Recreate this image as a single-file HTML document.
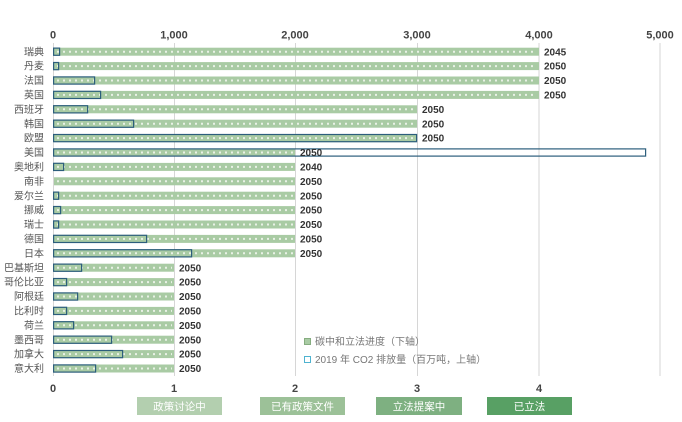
<!DOCTYPE html>
<html><head><meta charset="utf-8"><style>
html,body{margin:0;padding:0;background:#fff;}
svg{display:block;}
text{font-family:"Liberation Sans","Noto Sans CJK SC",sans-serif;}
.b{fill:#a9cba4;}
.d{stroke:#e9f1e6;stroke-width:2;stroke-dasharray:2 4;}
.o{fill:none;stroke:#2c5e7c;stroke-width:1.2;}
.n{font-size:10px;fill:#555;text-anchor:end;}
.v{font-size:10px;font-weight:bold;fill:#333;}
</style></head><body>
<svg width="682" height="422" viewBox="0 0 682 422" xmlns="http://www.w3.org/2000/svg">
<rect width="682" height="422" fill="#fff"/>
<g stroke="#d6d6d6" stroke-width="1">
<line x1="53.5" y1="43" x2="53.5" y2="376"/>
<line x1="174.5" y1="43" x2="174.5" y2="376"/>
<line x1="295.5" y1="43" x2="295.5" y2="376"/>
<line x1="417.5" y1="43" x2="417.5" y2="376"/>
<line x1="539" y1="43" x2="539" y2="376"/>
<line x1="660" y1="43" x2="660" y2="376"/>
</g>
<g font-size="11" font-weight="bold" fill="#444" text-anchor="middle">
<text x="53" y="38.5">0</text>
<text x="174" y="38.5">1,000</text>
<text x="295" y="38.5">2,000</text>
<text x="417" y="38.5">3,000</text>
<text x="539" y="38.5">4,000</text>
<text x="660" y="38.5">5,000</text>
<text x="53" y="392">0</text>
<text x="174" y="392">1</text>
<text x="295" y="392">2</text>
<text x="417" y="392">3</text>
<text x="539" y="392">4</text>
</g>

<g transform="translate(0,51.7)"><rect class="b" x="54" y="-4" width="485" height="8"/><line class="d" x1="57" y1="0" x2="537" y2="0"/><rect class="o" x="53.6" y="-3.6" width="6" height="7.2"/><text class="n" x="44" y="3.6">瑞典</text><text class="v" x="544" y="3.6">2045</text></g>
<g transform="translate(0,66.1)"><rect class="b" x="54" y="-4" width="485" height="8"/><line class="d" x1="57" y1="0" x2="537" y2="0"/><rect class="o" x="53.6" y="-3.6" width="5" height="7.2"/><text class="n" x="44" y="3.6">丹麦</text><text class="v" x="544" y="3.6">2050</text></g>
<g transform="translate(0,80.5)"><rect class="b" x="54" y="-4" width="485" height="8"/><line class="d" x1="57" y1="0" x2="537" y2="0"/><rect class="o" x="53.6" y="-3.6" width="41" height="7.2"/><text class="n" x="44" y="3.6">法国</text><text class="v" x="544" y="3.6">2050</text></g>
<g transform="translate(0,94.9)"><rect class="b" x="54" y="-4" width="485" height="8"/><line class="d" x1="57" y1="0" x2="537" y2="0"/><rect class="o" x="53.6" y="-3.6" width="47" height="7.2"/><text class="n" x="44" y="3.6">英国</text><text class="v" x="544" y="3.6">2050</text></g>
<g transform="translate(0,109.3)"><rect class="b" x="54" y="-4" width="363" height="8"/><line class="d" x1="57" y1="0" x2="415" y2="0"/><rect class="o" x="53.6" y="-3.6" width="34" height="7.2"/><text class="n" x="44" y="3.6">西班牙</text><text class="v" x="422" y="3.6">2050</text></g>
<g transform="translate(0,123.7)"><rect class="b" x="54" y="-4" width="363" height="8"/><line class="d" x1="57" y1="0" x2="415" y2="0"/><rect class="o" x="53.6" y="-3.6" width="80" height="7.2"/><text class="n" x="44" y="3.6">韩国</text><text class="v" x="422" y="3.6">2050</text></g>
<g transform="translate(0,138.1)"><rect class="b" x="54" y="-4" width="363" height="8"/><line class="d" x1="57" y1="0" x2="415" y2="0"/><rect class="o" x="53.6" y="-3.6" width="363" height="7.2"/><text class="n" x="44" y="3.6">欧盟</text><text class="v" x="422" y="3.6">2050</text></g>
<g transform="translate(0,152.5)"><rect class="b" x="54" y="-4" width="241" height="8"/><line class="d" x1="57" y1="0" x2="293" y2="0"/><rect class="o" x="53.6" y="-3.6" width="592" height="7.2"/><text class="n" x="44" y="3.6">美国</text><text class="v" x="300" y="3.6">2050</text></g>
<g transform="translate(0,166.9)"><rect class="b" x="54" y="-4" width="241" height="8"/><line class="d" x1="57" y1="0" x2="293" y2="0"/><rect class="o" x="53.6" y="-3.6" width="10" height="7.2"/><text class="n" x="44" y="3.6">奥地利</text><text class="v" x="300" y="3.6">2040</text></g>
<g transform="translate(0,181.3)"><rect class="b" x="54" y="-4" width="241" height="8"/><line class="d" x1="57" y1="0" x2="293" y2="0"/><text class="n" x="44" y="3.6">南非</text><text class="v" x="300" y="3.6">2050</text></g>
<g transform="translate(0,195.7)"><rect class="b" x="54" y="-4" width="241" height="8"/><line class="d" x1="57" y1="0" x2="293" y2="0"/><rect class="o" x="53.6" y="-3.6" width="5" height="7.2"/><text class="n" x="44" y="3.6">爱尔兰</text><text class="v" x="300" y="3.6">2050</text></g>
<g transform="translate(0,210.1)"><rect class="b" x="54" y="-4" width="241" height="8"/><line class="d" x1="57" y1="0" x2="293" y2="0"/><rect class="o" x="53.6" y="-3.6" width="7" height="7.2"/><text class="n" x="44" y="3.6">挪威</text><text class="v" x="300" y="3.6">2050</text></g>
<g transform="translate(0,224.5)"><rect class="b" x="54" y="-4" width="241" height="8"/><line class="d" x1="57" y1="0" x2="293" y2="0"/><rect class="o" x="53.6" y="-3.6" width="5" height="7.2"/><text class="n" x="44" y="3.6">瑞士</text><text class="v" x="300" y="3.6">2050</text></g>
<g transform="translate(0,238.9)"><rect class="b" x="54" y="-4" width="241" height="8"/><line class="d" x1="57" y1="0" x2="293" y2="0"/><rect class="o" x="53.6" y="-3.6" width="93" height="7.2"/><text class="n" x="44" y="3.6">德国</text><text class="v" x="300" y="3.6">2050</text></g>
<g transform="translate(0,253.3)"><rect class="b" x="54" y="-4" width="241" height="8"/><line class="d" x1="57" y1="0" x2="293" y2="0"/><rect class="o" x="53.6" y="-3.6" width="138" height="7.2"/><text class="n" x="44" y="3.6">日本</text><text class="v" x="300" y="3.6">2050</text></g>
<g transform="translate(0,267.7)"><rect class="b" x="54" y="-4" width="120" height="8"/><line class="d" x1="57" y1="0" x2="172" y2="0"/><rect class="o" x="53.6" y="-3.6" width="28" height="7.2"/><text class="n" x="44" y="3.6">巴基斯坦</text><text class="v" x="179" y="3.6">2050</text></g>
<g transform="translate(0,282.1)"><rect class="b" x="54" y="-4" width="120" height="8"/><line class="d" x1="57" y1="0" x2="172" y2="0"/><rect class="o" x="53.6" y="-3.6" width="13" height="7.2"/><text class="n" x="44" y="3.6">哥伦比亚</text><text class="v" x="179" y="3.6">2050</text></g>
<g transform="translate(0,296.5)"><rect class="b" x="54" y="-4" width="120" height="8"/><line class="d" x1="57" y1="0" x2="172" y2="0"/><rect class="o" x="53.6" y="-3.6" width="24" height="7.2"/><text class="n" x="44" y="3.6">阿根廷</text><text class="v" x="179" y="3.6">2050</text></g>
<g transform="translate(0,310.9)"><rect class="b" x="54" y="-4" width="120" height="8"/><line class="d" x1="57" y1="0" x2="172" y2="0"/><rect class="o" x="53.6" y="-3.6" width="13" height="7.2"/><text class="n" x="44" y="3.6">比利时</text><text class="v" x="179" y="3.6">2050</text></g>
<g transform="translate(0,325.3)"><rect class="b" x="54" y="-4" width="120" height="8"/><line class="d" x1="57" y1="0" x2="172" y2="0"/><rect class="o" x="53.6" y="-3.6" width="20" height="7.2"/><text class="n" x="44" y="3.6">荷兰</text><text class="v" x="179" y="3.6">2050</text></g>
<g transform="translate(0,339.7)"><rect class="b" x="54" y="-4" width="120" height="8"/><line class="d" x1="57" y1="0" x2="172" y2="0"/><rect class="o" x="53.6" y="-3.6" width="58" height="7.2"/><text class="n" x="44" y="3.6">墨西哥</text><text class="v" x="179" y="3.6">2050</text></g>
<g transform="translate(0,354.1)"><rect class="b" x="54" y="-4" width="120" height="8"/><line class="d" x1="57" y1="0" x2="172" y2="0"/><rect class="o" x="53.6" y="-3.6" width="69" height="7.2"/><text class="n" x="44" y="3.6">加拿大</text><text class="v" x="179" y="3.6">2050</text></g>
<g transform="translate(0,368.5)"><rect class="b" x="54" y="-4" width="120" height="8"/><line class="d" x1="57" y1="0" x2="172" y2="0"/><rect class="o" x="53.6" y="-3.6" width="42" height="7.2"/><text class="n" x="44" y="3.6">意大利</text><text class="v" x="179" y="3.6">2050</text></g>

<g font-size="10" fill="#777">
<rect x="304.5" y="338.5" width="6" height="6" fill="#a9cba4" stroke="#86ad80" stroke-width="1"/>
<text x="315" y="345">碳中和立法进度（下轴）</text>
<rect x="304.5" y="356.5" width="6" height="6" fill="#fff" stroke="#4fb3d0" stroke-width="1"/>
<text x="315" y="363">2019 年 CO2 排放量（百万吨，上轴）</text>
</g>
<rect x="137" y="397" width="85" height="18" fill="#b3cfaf"/>
<rect x="260" y="397" width="85" height="18" fill="#9cc198"/>
<rect x="376" y="397" width="86" height="18" fill="#7eb081"/>
<rect x="487" y="397" width="85" height="18" fill="#58a064"/>
<g font-size="10.5" fill="#fff" text-anchor="middle">
<text x="179.5" y="410">政策讨论中</text>
<text x="302.5" y="410">已有政策文件</text>
<text x="419" y="410">立法提案中</text>
<text x="529.5" y="410">已立法</text>
</g>
</svg>
</body></html>
